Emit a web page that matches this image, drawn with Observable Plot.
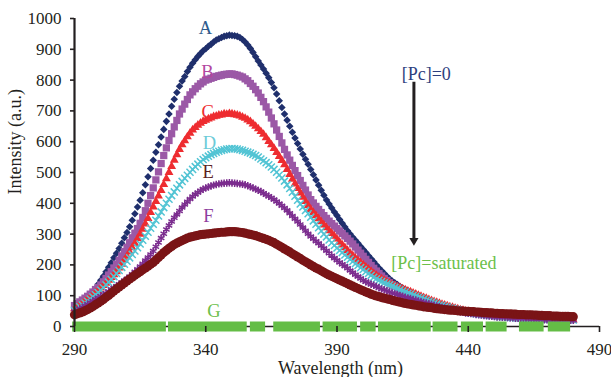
<!DOCTYPE html>
<html><head><meta charset="utf-8">
<script src="https://cdn.jsdelivr.net/npm/d3@7"></script>
<script src="https://cdn.jsdelivr.net/npm/@observablehq/plot@0.6"></script>
<style>body{margin:0;background:#fff}#chart{width:611px;height:377px}</style>
</head><body><div id="chart"></div>
<script>
// Wavelength grid (nm), every 1 nm from 290 to 480
const wavelength = d3.range(290, 481, 1);
const seriesNames = ["A", "B", "C", "D", "E", "F"];
const A = [65,69,74,80,86,93,102,112,124,137,
150,163,178,192,207,223,238,253,270,288,
305,324,345,366,388,410,434,460,486,513,
540,566,590,615,640,666,690,715,738,760,
780,797,812,828,842,855,866,877,886,895,
902,910,916,924,930,934,938,942,944,946,
945,944,942,938,932,924,914,903,890,876,
862,849,836,822,808,792,775,755,733,711,
690,670,650,631,612,594,576,559,543,527,
510,493,476,459,442,426,411,398,385,372,
360,347,335,323,311,300,290,280,270,260,
250,240,230,220,210,200,190,181,172,163,
155,148,142,136,130,125,120,116,112,108,
105,101,97,93,89,85,82,79,76,73,
70,67,65,62,60,58,56,54,52,50,
48,46,45,43,42,41,40,39,38,37,
36,35,34,33,33,32,31,30,30,29,
29,28,28,27,27,26,26,26,26,25,
25,25,24,24,24,23,23,23,23,22,
22];
const B = [68,74,80,86,92,98,105,112,120,127,
135,145,156,167,178,190,202,215,229,243,
257,272,288,303,318,335,354,376,400,425,
450,476,502,529,555,580,604,626,648,669,
690,706,722,737,752,762,772,780,788,794,
800,803,806,809,812,814,816,818,819,820,
820,818,816,813,810,804,798,789,780,769,
758,744,730,713,696,677,658,638,617,596,
575,557,540,523,506,490,474,458,443,427,
412,401,390,380,370,360,351,342,334,326,
318,310,302,294,286,277,268,258,248,238,
228,218,208,198,189,180,172,164,156,149,
142,136,131,125,120,115,111,107,103,99,
96,93,90,87,84,81,78,75,73,70,
68,65,63,61,59,57,55,53,51,49,
48,46,45,43,42,41,40,39,38,37,
36,35,34,33,33,32,31,30,30,29,
29,28,28,27,27,27,26,26,26,25,
25,25,25,24,24,24,24,23,23,23,
23];
const C = [58,63,69,75,82,88,95,102,110,117,
125,133,141,150,159,168,178,190,202,215,
228,242,256,270,285,300,316,333,351,370,
388,406,424,442,461,480,500,520,540,558,
575,590,603,616,628,638,646,654,660,666,
670,674,677,681,683,686,687,690,689,691,
690,688,686,684,680,676,671,665,658,650,
642,633,624,613,601,590,578,565,552,539,
525,510,494,478,463,448,434,420,406,393,
380,370,360,350,340,330,321,311,302,293,
284,274,265,256,247,238,230,222,215,207,
200,193,186,179,172,166,160,155,150,145,
140,136,133,129,126,122,119,115,112,108,
105,101,98,94,91,87,84,81,78,75,
72,69,67,64,62,59,57,54,52,50,
48,46,45,43,42,40,39,38,37,36,
35,34,33,32,32,31,30,29,29,28,
28,27,27,26,26,25,25,25,25,24,
24,24,24,23,23,22,22,22,22,21,
21];
const D = [52,58,64,70,76,82,89,96,103,110,
118,126,135,144,153,162,172,182,192,202,
212,223,234,245,256,268,280,293,306,319,
332,345,359,372,386,400,413,425,437,449,
460,471,481,491,501,510,519,527,535,542,
548,553,558,562,566,569,572,574,576,577,
578,577,576,574,572,569,566,563,559,555,
550,544,538,532,525,518,510,501,492,482,
472,460,448,436,423,410,398,388,377,366,
355,343,332,321,310,300,291,281,272,263,
255,247,240,232,225,218,211,204,198,191,
185,178,172,166,160,155,150,146,142,138,
135,131,127,123,119,115,112,108,105,101,
98,95,92,88,85,82,79,76,73,70,
68,65,63,60,58,56,54,52,50,48,
46,44,43,41,40,39,38,37,36,35,
34,33,32,31,31,30,29,28,28,27,
27,26,26,25,25,25,25,24,24,23,
23,23,23,22,22,22,22,21,21,21,
21];
const E = [48,53,58,62,67,72,77,83,88,93,
98,103,108,114,120,125,131,137,143,149,
155,162,170,178,186,195,204,214,224,234,
245,259,273,287,301,315,328,341,353,364,
375,386,396,405,414,422,429,435,441,446,
450,453,456,459,461,463,464,465,466,467,
466,465,464,463,462,460,457,454,450,446,
442,438,433,428,423,418,412,406,399,392,
385,377,368,359,350,341,331,321,311,301,
292,285,277,270,262,254,246,238,230,222,
215,208,202,196,189,182,175,168,162,156,
150,145,141,137,134,130,126,122,119,115,
112,109,106,104,101,98,95,93,91,88,
86,83,81,78,76,74,72,69,67,64,
62,60,58,56,54,52,50,48,46,44,
43,42,41,39,38,37,36,35,34,33,
32,31,31,30,30,29,28,28,27,27,
26,26,25,25,24,24,23,23,23,22,
22,22,22,21,21,21,21,20,20,20,
20];
const F = [38,41,44,47,51,55,60,65,71,76,
82,88,95,101,108,115,122,128,135,141,
148,154,160,166,172,178,184,190,196,202,
208,216,224,232,240,247,254,260,266,271,
275,279,283,287,290,292,294,296,298,299,
300,301,302,303,304,305,306,306,307,308,
308,308,307,306,305,303,301,299,297,295,
292,289,286,283,280,276,272,267,262,257,
252,247,242,236,231,226,221,215,210,205,
200,195,190,186,181,176,171,167,163,159,
155,151,147,143,139,135,131,127,123,119,
116,112,109,105,102,99,97,94,92,90,
88,85,83,81,79,77,75,73,72,70,
69,67,66,64,63,62,61,59,58,57,
56,55,54,53,53,52,51,50,50,49,
49,48,48,47,47,46,45,45,44,44,
43,43,42,42,41,41,41,40,40,39,
39,39,38,38,38,37,37,36,36,35,
35,35,34,34,34,33,33,33,33,32,
32];
// Series G ([Pc]=saturated): intensity 0, drawn as dashes between these wavelengths
const gStart = [289.3, 325.8, 357.0, 365.9, 384.7, 399.0, 405.8, 426.6, 437.4, 446.8, 459.5, 470.5];
const gEnd   = [325.0, 355.8, 362.8, 383.7, 397.8, 404.9, 425.9, 436.1, 445.8, 454.8, 468.9, 479.0];
const gValue = 0;
const xTicks = [290, 340, 390, 440, 490];
const yTicks = [0, 100, 200, 300, 400, 500, 600, 700, 800, 900, 1000];

const values = {A, B, C, D, E, F};
const rows = seriesNames.flatMap(s => values[s].map((v, i) => ({s, wl: wavelength[i], v})));
const gRows = gStart.map((x1, i) => ({x1, x2: gEnd[i], y: gValue}));

const color = {A:"#1f2f6c", B:"#9b58a6", C:"#ee2c30", D:"#52c4d4", E:"#7b2c8e", F:"#7a1416", G:"#64bd46"};
const style = {
  A:{symbol:"diamond2", r:3.4, fill:true},
  B:{symbol:"square", r:4.1, fill:true},
  C:{symbol:"triangle", r:3.3, fill:true},
  D:{symbol:"times", r:3.3, fill:false},
  E:{symbol:"asterisk", r:3.5, fill:false},
  F:{symbol:"circle", r:4.6, fill:true}
};
const seriesMarks = seriesNames.map(s => Plot.dot(rows.filter(d => d.s === s), {
  x:"wl", y:"v", symbol: () => style[s].symbol, r: style[s].r,
  fill: style[s].fill ? color[s] : "none",
  stroke: style[s].fill ? "none" : color[s],
  strokeWidth: style[s].fill ? 0 : 1.5
}));

const labels = [
  {t:"A", x:339.9, y:969, c:"#2e5b8d"},
  {t:"B", x:340.6, y:826, c:"#b2479f"},
  {t:"C", x:340.7, y:696, c:"#ee2c30"},
  {t:"D", x:341.4, y:597, c:"#6ccbd8"},
  {t:"E", x:340.9, y:501, c:"#5b1f1f"},
  {t:"F", x:341.0, y:359, c:"#8e3e9f"},
  {t:"G", x:343.1, y:49,  c:"#6cc04a"}
];

const chart = Plot.plot({
  width: 611, height: 377,
  marginTop: 18, marginBottom: 51, marginLeft: 74, marginRight: 12,
  style: {fontFamily: "'Liberation Serif', serif", fontSize: "17px", color: "#231f20", background: "#fff"},
  x: {domain: [290, 490]},
  y: {domain: [0, 1000]},
  marks: [
    ...seriesMarks,
    Plot.ruleY([0], {stroke:"#231f20", strokeWidth:1.6}),
    Plot.ruleY(gRows, {x1:"x1", x2:"x2", y:"y", stroke: color.G, strokeWidth: 10}),
    Plot.ruleX([290], {stroke:"#231f20", strokeWidth:2.2}),
    Plot.axisY({ticks: yTicks, tickFormat: d => String(d), tickSize: 4, tickPadding: 9, label: null, fontSize: 17, strokeWidth: 1.6}),
    Plot.axisX({ticks: xTicks, tickFormat: d => String(d), tickSize: 6, tickPadding: 10, label: null, fontSize: 17, strokeWidth: 1.6}),
    Plot.text(labels, {x:"x", y:"y", text:"t", fill:"c", fontSize: 18.5, lineAnchor:"middle"}),
    Plot.text(["[Pc]=0"], {x: 424.0, y: 820, fill:"#2d3e7e", fontSize: 18, lineAnchor:"middle"}),
    Plot.text(["[Pc]=saturated"], {x: 430.7, y: 206.5, fill:"#6cc04a", fontSize: 18, lineAnchor:"middle"}),
    Plot.ruleX([419.3], {y1: 793, y2: 282, stroke:"#231f20", strokeWidth: 3}),
    Plot.dot([419.3], {x: d => d, y: 279, symbol:"triangle", r: 3.4, rotate: 180, fill:"#231f20"}),
    Plot.text(["Wavelength (nm)"], {frameAnchor:"bottom", dy: 41.4, dx: 3.5, fontSize: 18, lineAnchor:"middle"}),
    Plot.text(["Intensity (a.u.)"], {frameAnchor:"left", dx: -59.6, dy: 22, rotate: -90, fontSize: 18, lineAnchor:"middle"})
  ]
});
document.getElementById("chart").append(chart);
</script>
</body></html>
